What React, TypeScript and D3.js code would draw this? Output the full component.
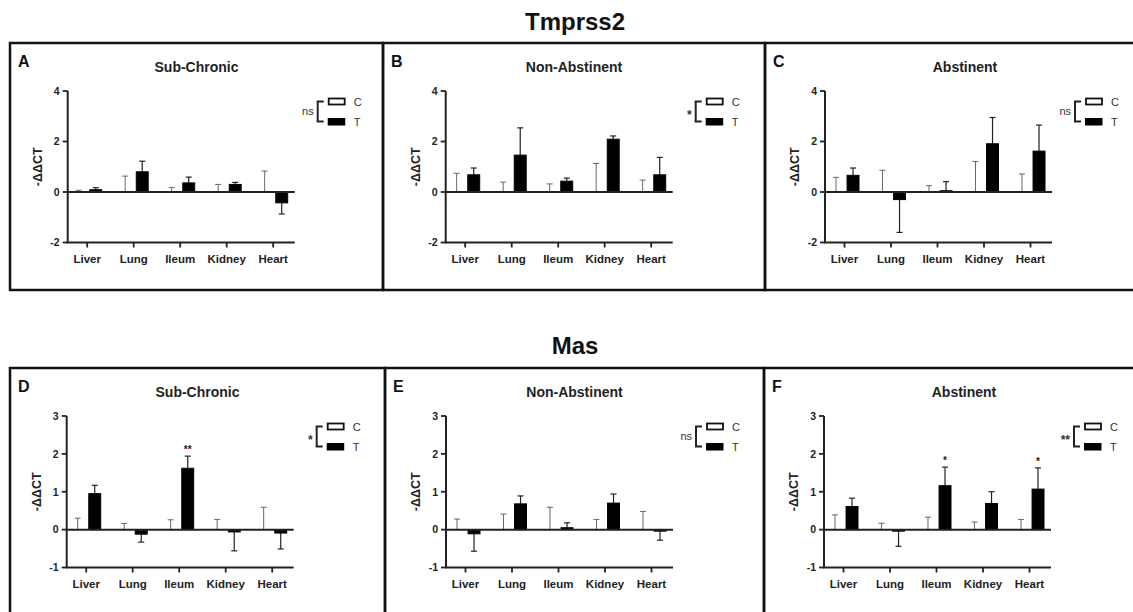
import * as d3 from "d3";
import React from "react";

const organs = ["Liver", "Lung", "Ileum", "Kidney", "Heart"];
const groups = ["C", "T"];
const conditions = ["Sub-Chronic", "Non-Abstinent", "Abstinent"];
const genes = ["Tmprss2", "Mas"];
const letters = ["A", "B", "C", "D", "E", "F"];

// -ΔΔCT; controls are normalised to 0, so only their SEM shows
const tmprssSubChronicCErr = [0.07, 0.63, 0.18, 0.3, 0.83];
const tmprssSubChronicT = [0.09, 0.8, 0.36, 0.3, -0.43];
const tmprssSubChronicTErr = [0.08, 0.42, 0.23, 0.08, 0.44];

const tmprssNonAbstCErr = [0.74, 0.39, 0.32, 1.13, 0.47];
const tmprssNonAbstT = [0.68, 1.46, 0.43, 2.09, 0.68];
const tmprssNonAbstTErr = [0.27, 1.08, 0.12, 0.13, 0.69];

const tmprssAbstCErr = [0.58, 0.86, 0.25, 1.21, 0.71];
const tmprssAbstT = [0.66, -0.3, 0.05, 1.91, 1.62];
const tmprssAbstTErr = [0.29, 1.3, 0.36, 1.04, 1.03];

const masSubChronicCErr = [0.3, 0.16, 0.26, 0.27, 0.59];
const masSubChronicT = [0.95, -0.12, 1.62, -0.06, -0.09];
const masSubChronicTErr = [0.22, 0.21, 0.32, 0.5, 0.42];

const masNonAbstCErr = [0.28, 0.41, 0.59, 0.27, 0.48];
const masNonAbstT = [-0.11, 0.68, 0.05, 0.7, -0.04];
const masNonAbstTErr = [0.46, 0.21, 0.13, 0.24, 0.24];

const masAbstCErr = [0.39, 0.17, 0.33, 0.2, 0.27];
const masAbstT = [0.61, -0.04, 1.16, 0.69, 1.07];
const masAbstTErr = [0.22, 0.4, 0.49, 0.31, 0.56];

// significance: legend (group effect) and per-organ marks
const legendSig = ["ns", "*", "ns", "*", "ns", "**"];
const masSubChronicMarks = ["", "", "**", "", ""];
const masAbstMarks = ["", "", "*", "", "*"];

const tmprssDomain = [-2, 4];
const tmprssTicks = [-2, 0, 2, 4];
const masDomain = [-1, 3];
const masTicks = [-1, 0, 1, 2, 3];

const FONT = "'Liberation Sans', Arial, Helvetica, sans-serif";

function Panel(props) {
  const { x0, y0, w, h, axisX, letter, title, domain, ticks, cErr, tMean, tErr, sig, marks } = props;

  const y = d3.scaleLinear().domain(domain).range([y0 + 199.5, y0 + 48]);
  const x = d3.scalePoint().domain(organs).range([axisX + 19.5, axisX + 205.5]);
  const sub = d3.scaleBand().domain(groups).range([-14.5, 14.5]).paddingInner(0.3);
  const bw = sub.bandwidth();
  const axisEnd = axisX + 227;
  const yBottom = y(domain[0]);
  const yTop = y(domain[1]);
  const y0px = y(0);
  const cap = 3;

  const stars = sig !== "ns";

  return (
    <g fontFamily={FONT}>
      <rect x={x0} y={y0} width={w} height={h} fill="none" stroke="#111" strokeWidth={2.5} />
      <text x={x0 + 8} y={y0 + 24} fontSize={16} fontWeight="bold" fill="#111">{letter}</text>
      <text x={x0 + w / 2} y={y0 + 28.5} fontSize={14} fontWeight="bold" textAnchor="middle" fill="#222">{title}</text>

      {/* y axis */}
      <line x1={axisX} x2={axisX} y1={yTop} y2={yBottom} stroke="#222" strokeWidth={2} />
      {ticks.map(t => (
        <g key={t}>
          <line x1={axisX - 5} x2={axisX} y1={y(t)} y2={y(t)} stroke="#222" strokeWidth={1.8} />
          <text x={axisX - 8} y={y(t) + 3.8} fontSize={10.5} fontWeight="bold" textAnchor="end" fill="#222">{t}</text>
        </g>
      ))}
      <text
        transform={`translate(${axisX - 26}, ${(yTop + yBottom) / 2}) rotate(-90)`}
        fontSize={12.5} fontWeight="bold" textAnchor="middle" fill="#222"
      >-ΔΔCT</text>

      {/* bottom axis */}
      <line x1={axisX - 1} x2={axisEnd} y1={yBottom} y2={yBottom} stroke="#222" strokeWidth={2} />
      {organs.map(o => (
        <g key={o}>
          <line x1={x(o)} x2={x(o)} y1={yBottom} y2={yBottom + 5} stroke="#222" strokeWidth={1.8} />
          <text x={x(o)} y={yBottom + 20} fontSize={11.5} fontWeight="bold" textAnchor="middle" fill="#222">{o}</text>
        </g>
      ))}

      {/* control error bars */}
      {organs.map((o, i) => {
        const cx = x(o) + sub("C") + bw / 2;
        return (
          <g key={"c" + o}>
            <line x1={cx} x2={cx} y1={y0px} y2={y(cErr[i])} stroke="#666" strokeWidth={1} />
            <line x1={cx - cap} x2={cx + cap} y1={y(cErr[i])} y2={y(cErr[i])} stroke="#666" strokeWidth={1} />
          </g>
        );
      })}

      {/* treated bars */}
      {organs.map((o, i) => {
        const bx = x(o) + sub("T");
        const cx = bx + bw / 2;
        const v = tMean[i];
        const end = v >= 0 ? v + tErr[i] : v - tErr[i];
        return (
          <g key={"t" + o}>
            <line x1={cx} x2={cx} y1={y(v)} y2={y(end)} stroke="#222" strokeWidth={1.2} />
            <line x1={cx - cap} x2={cx + cap} y1={y(end)} y2={y(end)} stroke="#222" strokeWidth={1.2} />
            <rect x={bx} y={Math.min(y(v), y0px)} width={bw} height={Math.abs(y(v) - y0px)}
              fill="#000" stroke="#000" strokeWidth={1} />
            {marks && marks[i] ? (
              <text x={cx} y={y(end) - 3} fontSize={10} fontWeight="bold" textAnchor="middle" fill="#222">{marks[i]}</text>
            ) : null}
          </g>
        );
      })}

      {/* zero line */}
      <line x1={axisX} x2={axisEnd} y1={y0px} y2={y0px} stroke="#222" strokeWidth={2} />

      {/* legend */}
      <g>
        <line x1={axisX + 250} x2={axisX + 250} y1={y0 + 58.5} y2={y0 + 78.5} stroke="#222" strokeWidth={2} />
        <line x1={axisX + 249} x2={axisX + 256} y1={y0 + 58.5} y2={y0 + 58.5} stroke="#222" strokeWidth={2} />
        <line x1={axisX + 249} x2={axisX + 256} y1={y0 + 78.5} y2={y0 + 78.5} stroke="#222" strokeWidth={2} />
        <rect x={axisX + 261} y={y0 + 55.5} width={16} height={6} fill="#fff" stroke="#111" strokeWidth={1.8} />
        <rect x={axisX + 260} y={y0 + 75} width={17.5} height={7.5} fill="#000" />
        <text x={axisX + 286} y={y0 + 62.5} fontSize={11} fill="#333">C</text>
        <text x={axisX + 286} y={y0 + 82.5} fontSize={11} fill="#333">T</text>
        <text x={axisX + 246} y={y0 + (stars ? 76 : 72)} fontSize={stars ? 12 : 11}
          fontWeight={stars ? "bold" : "normal"} textAnchor="end" fill="#333">{sig}</text>
      </g>
    </g>
  );
}

export default function App() {
  const rows = [
    { gene: genes[0], titleY: 30, y0: 43, h: 247, boxX: [10, 383, 765], axisX: [67.7, 445.7, 825], domain: tmprssDomain, ticks: tmprssTicks },
    { gene: genes[1], titleY: 354, y0: 368, h: 300, boxX: [10, 385, 764], axisX: [66.7, 446, 824], domain: masDomain, ticks: masTicks },
  ];
  const series = [
    [
      [tmprssSubChronicCErr, tmprssSubChronicT, tmprssSubChronicTErr, null],
      [tmprssNonAbstCErr, tmprssNonAbstT, tmprssNonAbstTErr, null],
      [tmprssAbstCErr, tmprssAbstT, tmprssAbstTErr, null],
    ],
    [
      [masSubChronicCErr, masSubChronicT, masSubChronicTErr, masSubChronicMarks],
      [masNonAbstCErr, masNonAbstT, masNonAbstTErr, null],
      [masAbstCErr, masAbstT, masAbstTErr, masAbstMarks],
    ],
  ];
  const widths = [373, 382, 400];

  return (
    <svg width={1133} height={612} viewBox="0 0 1133 612"
      style={{ position: "absolute", left: 0, top: 0, background: "#fff", display: "block" }}>
      <rect x={0} y={0} width={1133} height={612} fill="#fff" />
      {rows.map((r, ri) => (
        <g key={r.gene}>
          <text x={575} y={r.titleY} fontFamily={FONT} fontSize={24} fontWeight="bold" textAnchor="middle" fill="#111">{r.gene}</text>
          {conditions.map((c, ci) => {
            const [cErr, tMean, tErr, marks] = series[ri][ci];
            return (
              <Panel key={c}
                x0={r.boxX[ci]} y0={r.y0} w={ci < 2 ? r.boxX[ci + 1] - r.boxX[ci] : widths[2]} h={r.h}
                axisX={r.axisX[ci]} letter={letters[ri * 3 + ci]} title={c}
                domain={r.domain} ticks={r.ticks}
                cErr={cErr} tMean={tMean} tErr={tErr}
                sig={legendSig[ri * 3 + ci]} marks={marks} />
            );
          })}
        </g>
      ))}
    </svg>
  );
}
